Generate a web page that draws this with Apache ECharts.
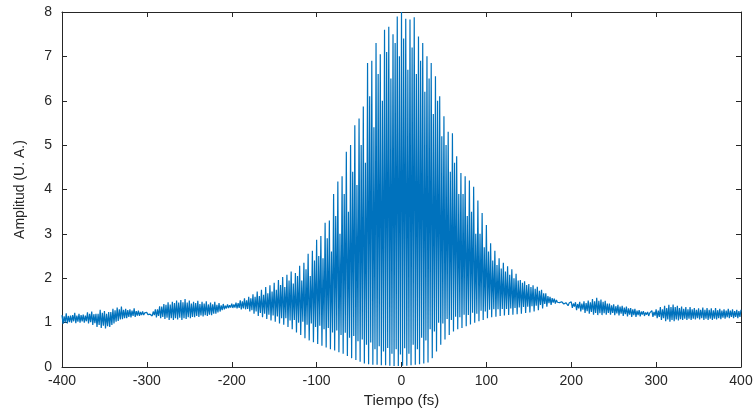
<!DOCTYPE html>
<html>
<head>
<meta charset="utf-8">
<script src="https://cdn.jsdelivr.net/npm/echarts@6/dist/echarts.min.js"></script>
<style>
html,body{margin:0;padding:0;background:#fff;}
#chart{width:756px;height:413px;}
</style>
</head>
<body>
<div id="chart"></div>
<script>
// Values. Fringe period ~2.5 fs; each 5 fs block holds:
// a tall peak (upperPeaks), a deep trough (lowerTroughs), a second peak (corePeaks), a second trough (coreTroughs).
var sampleStart = -400, blockStep = 5, subStep = 1.25;   // fs
var upperPeaks = [   // t = -400, -395, ... 400
  1.17,1.21,1.16,1.22,1.2,1.18,1.23,1.25,1.2,1.29,
  1.26,1.24,1.31,1.34,1.36,1.31,1.3,1.32,1.27,1.25,
  1.23,1.22,1.3,1.37,1.42,1.46,1.47,1.5,1.51,1.53,
  1.5,1.47,1.49,1.47,1.48,1.45,1.47,1.44,1.42,1.41,
  1.43,1.45,1.5,1.55,1.58,1.64,1.7,1.74,1.8,1.84,
  1.9,1.96,2.03,2.08,2.15,2.12,2.28,2.35,2.55,2.62,
  2.87,2.95,3.25,3.3,3.9,4.18,4.3,4.85,5.0,5.45,
  5.6,5.87,6.85,6.9,7.3,7.05,7.6,7.67,7.5,7.9,
  8.0,7.85,7.83,7.88,7.45,7.3,7.0,6.85,6.55,6.1,
  5.65,5.3,5.27,4.75,4.37,4.3,4.2,4.06,3.75,3.47,
  3.2,2.79,2.62,2.45,2.35,2.27,2.2,2.1,1.96,1.93,
  1.87,1.84,1.81,1.74,1.66,1.58,1.54,1.5,1.49,1.47,
  1.47,1.46,1.47,1.48,1.5,1.53,1.56,1.52,1.49,1.43,
  1.41,1.4,1.38,1.36,1.33,1.31,1.28,1.26,1.24,1.27,
  1.3,1.35,1.38,1.4,1.41,1.38,1.36,1.35,1.35,1.33,
  1.32,1.34,1.33,1.32,1.33,1.31,1.3,1.31,1.3,1.29,
  1.29
];
var lowerTroughs = [ // t = -398.75, -393.75, ...
  0.97,0.98,1.0,0.99,1.0,1.0,0.98,0.95,0.9,0.88,
  0.87,0.9,0.98,1.04,1.08,1.1,1.12,1.13,1.15,1.17,
  1.18,1.15,1.12,1.1,1.08,1.06,1.06,1.07,1.06,1.08,
  1.1,1.12,1.13,1.14,1.15,1.17,1.2,1.25,1.3,1.33,
  1.33,1.32,1.3,1.3,1.25,1.2,1.15,1.12,1.08,1.05,
  1.02,0.98,0.95,0.9,0.85,0.78,0.72,0.65,0.6,0.56,
  0.52,0.48,0.44,0.4,0.37,0.33,0.3,0.25,0.2,0.16,
  0.12,0.08,0.06,0.05,0.05,0.04,0.04,0.03,0.02,0.02,
  0.03,0.03,0.04,0.05,0.06,0.08,0.1,0.2,0.35,0.5,
  0.62,0.72,0.8,0.85,0.88,0.92,0.96,1.0,1.03,1.06,
  1.1,1.12,1.13,1.15,1.16,1.17,1.18,1.19,1.2,1.22,
  1.23,1.25,1.28,1.32,1.36,1.4,1.43,1.45,1.42,1.38,
  1.33,1.28,1.25,1.22,1.2,1.18,1.17,1.17,1.18,1.18,
  1.17,1.16,1.15,1.14,1.13,1.13,1.14,1.15,1.15,1.13,
  1.1,1.06,1.03,1.02,1.03,1.05,1.06,1.06,1.06,1.07,
  1.07,1.06,1.06,1.06,1.07,1.08,1.09,1.1,1.1,1.1
];
var corePeaks = [    // t = -397.5, -392.5, ...
  1.14,1.15,1.17,1.16,1.17,1.16,1.2,1.19,1.2,1.22,
  1.2,1.24,1.28,1.3,1.29,1.28,1.27,1.26,1.24,1.22,
  1.21,1.25,1.3,1.36,1.4,1.41,1.44,1.45,1.46,1.45,
  1.43,1.44,1.42,1.43,1.41,1.41,1.4,1.39,1.38,1.39,
  1.41,1.44,1.48,1.5,1.55,1.58,1.6,1.63,1.66,1.7,
  1.74,1.85,1.8,1.95,1.88,2.05,1.95,2.2,2.05,2.4,
  2.5,2.45,2.9,2.6,3.4,3.0,3.9,3.5,4.4,4.1,
  5.0,4.6,6.1,5.4,6.6,6.0,7.1,6.5,7.3,7.0,
  7.4,6.7,7.2,6.6,6.9,6.2,6.5,5.7,6.0,5.2,
  5.0,4.4,4.6,3.9,3.9,3.4,3.5,3.0,3.0,2.7,
  2.6,2.4,2.3,2.22,2.15,2.08,2.0,1.95,1.9,1.85,
  1.8,1.76,1.72,1.66,1.6,1.55,1.51,1.48,1.46,1.44,
  1.43,1.42,1.43,1.44,1.46,1.48,1.49,1.47,1.43,1.39,
  1.37,1.36,1.34,1.32,1.3,1.27,1.25,1.23,1.22,1.24,
  1.27,1.3,1.33,1.35,1.35,1.33,1.31,1.3,1.3,1.29,
  1.29,1.29,1.29,1.28,1.28,1.27,1.27,1.27,1.26,1.26
];
var coreTroughs = [  // t = -396.25, -391.25, ...
  1.0,1.01,1.03,1.02,1.03,1.03,1.01,0.99,0.95,0.93,
  0.92,0.95,1.02,1.07,1.1,1.13,1.15,1.16,1.17,1.19,
  1.19,1.17,1.15,1.13,1.11,1.1,1.1,1.11,1.1,1.12,
  1.13,1.15,1.16,1.17,1.18,1.2,1.23,1.28,1.32,1.34,
  1.34,1.33,1.32,1.31,1.28,1.25,1.22,1.2,1.18,1.16,
  1.14,1.1,1.1,1.05,1.06,1.0,1.02,0.95,0.98,0.9,
  0.93,0.85,0.88,0.78,0.82,0.72,0.77,0.66,0.7,0.58,
  0.62,0.5,0.55,0.4,0.47,0.35,0.43,0.3,0.4,0.28,
  0.42,0.3,0.5,0.4,0.66,0.6,0.85,0.8,1.0,0.98,
  1.08,1.06,1.13,1.12,1.18,1.17,1.22,1.2,1.27,1.25,
  1.29,1.3,1.3,1.31,1.31,1.32,1.33,1.34,1.35,1.36,
  1.37,1.38,1.4,1.42,1.44,1.45,1.46,1.47,1.45,1.41,
  1.36,1.32,1.29,1.26,1.24,1.22,1.21,1.21,1.22,1.22,
  1.21,1.2,1.19,1.18,1.17,1.17,1.18,1.18,1.18,1.16,
  1.13,1.1,1.07,1.06,1.07,1.08,1.09,1.09,1.09,1.1,
  1.1,1.09,1.09,1.09,1.1,1.11,1.12,1.13,1.13,1.13
];
var xTicks = [-400,-300,-200,-100,0,100,200,300,400];
var yTicks = [0,1,2,3,4,5,6,7,8];
var xTitle = 'Tiempo (fs)';
var yTitle = 'Amplitud (U. A.)';

// interleave the read samples into one trace
var trace = [];
for (var i = 0; i < upperPeaks.length; i++) {
  var t0 = sampleStart + i * blockStep;
  trace.push([t0, upperPeaks[i]]);
  if (i < lowerTroughs.length) {
    trace.push([t0 + subStep, lowerTroughs[i]]);
    trace.push([t0 + 2 * subStep, corePeaks[i]]);
    trace.push([t0 + 3 * subStep, coreTroughs[i]]);
  }
}

var axisColor = '#262626';
var font = 'Liberation Sans, Arial, Helvetica, sans-serif';
var chart = echarts.init(document.getElementById('chart'), null, {renderer: 'canvas'});
function xAx(pos, show) {
  return {
    type: 'value', position: pos, min: xTicks[0], max: xTicks[xTicks.length-1], interval: 100,
    name: show ? xTitle : '', nameLocation: 'middle', nameGap: 24,
    nameTextStyle: {color: axisColor, fontSize: 15, fontFamily: font},
    axisLine: {show: true, onZero: false, lineStyle: {color: axisColor, width: 1}},
    axisTick: {show: true, inside: true, length: 5, lineStyle: {color: axisColor}},
    axisLabel: {show: show, color: axisColor, fontSize: 14, fontFamily: font, margin: 7},
    splitLine: {show: false}
  };
}
function yAx(pos, show) {
  return {
    type: 'value', position: pos, min: yTicks[0], max: yTicks[yTicks.length-1], interval: 1,
    name: show ? yTitle : '', nameLocation: 'middle', nameGap: 35, nameRotate: 90,
    nameTextStyle: {color: axisColor, fontSize: 14, fontFamily: font},
    axisLine: {show: true, onZero: false, lineStyle: {color: axisColor, width: 1}},
    axisTick: {show: true, inside: true, length: 5, lineStyle: {color: axisColor}},
    axisLabel: {show: show, color: axisColor, fontSize: 14, fontFamily: font, margin: 10},
    splitLine: {show: false}
  };
}
chart.setOption({
  animation: false,
  backgroundColor: '#fff',
  grid: {left: 62, right: 15, top: 12, bottom: 46},
  xAxis: [xAx('bottom', true), xAx('top', false)],
  yAxis: [yAx('left', true), yAx('right', false)],
  series: [{
    type: 'line', xAxisIndex: 0, yAxisIndex: 0,
    data: trace, showSymbol: false, symbol: 'none',
    lineStyle: {color: '#0072BD', width: 1.2},
    clip: true
  }]
});
</script>
</body>
</html>
